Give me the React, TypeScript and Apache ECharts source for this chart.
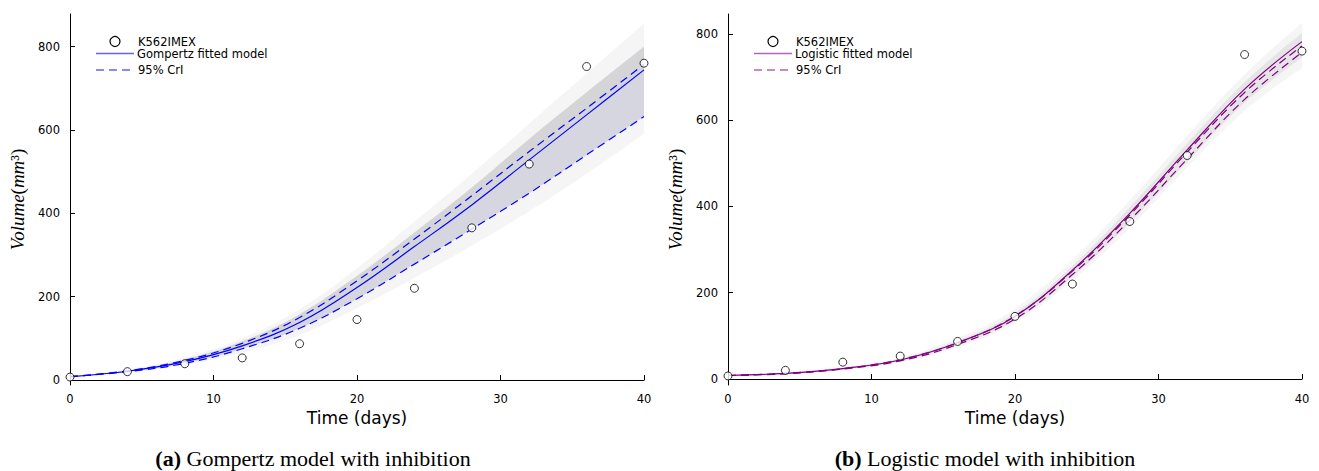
import React, { useEffect, useRef } from "react";
import * as echarts from "echarts";

// ---- data ----
const days = [0, 4, 8, 12, 16, 20, 24, 28, 32, 36, 40];
const observed = [7, 20, 39, 53, 87, 145, 220, 365, 518, 752, 760];

// Gompertz with inhibition
const gompMean = [8, 21, 44, 82, 138, 222, 320, 420, 528, 636, 744];
const gompUpper = [8, 22, 47, 88, 150, 238, 338, 442, 548, 652, 757];
const gompLower = [8, 20, 40, 75, 124, 195, 278, 362, 448, 540, 632];
const gompSampleHi = [9, 25, 54, 100, 170, 268, 380, 495, 615, 735, 855];
const gompSampleMidHi = [9, 23, 50, 93, 158, 250, 354, 462, 578, 690, 800];
const gompSampleLo = [7, 18, 36, 66, 108, 172, 245, 322, 405, 495, 590];

// Logistic with inhibition
const logiMean = [8, 13, 24, 44, 84, 145, 252, 384, 531, 672, 782];
const logiUpper = [8, 13, 24, 45, 84, 146, 250, 380, 526, 664, 772];
const logiLower = [8, 12, 23, 42, 80, 139, 242, 368, 510, 648, 757];
const logiSampleHi = [9, 15, 27, 50, 95, 163, 276, 414, 564, 706, 825];
const logiSampleMidHi = [8, 14, 25, 47, 89, 153, 262, 398, 546, 688, 802];
const logiSampleMidLo = [7, 12, 22, 41, 78, 136, 237, 362, 503, 640, 745];
const logiSampleLo = [7, 11, 21, 38, 74, 130, 228, 350, 490, 622, 720];

const yTicks = [0, 200, 400, 600, 800];

const pairs = (ys: number[]) => days.map((d, i) => [d, ys[i]]);
const diff = (a: number[], b: number[]) => a.map((v, i) => v - b[i]);

// bands are drawn on a hidden category axis (same evenly spaced days) so they can be stacked
function band(grid: number, stack: string, lo: number[], hi: number[], color: string, z: number) {
  return [
    {
      type: "line", xAxisIndex: grid + 2, yAxisIndex: grid, stack, data: lo,
      smooth: 0.4, symbol: "none", lineStyle: { opacity: 0 }, silent: true, z,
    },
    {
      type: "line", xAxisIndex: grid + 2, yAxisIndex: grid, stack, data: diff(hi, lo),
      smooth: 0.4, symbol: "none", lineStyle: { opacity: 0 }, areaStyle: { color, opacity: 1 }, silent: true, z,
    },
  ];
}

function curve(grid: number, name: string, ys: number[], color: string, dashed: boolean) {
  return {
    type: "line", name, xAxisIndex: grid, yAxisIndex: grid, data: pairs(ys),
    smooth: 0.4, symbol: "none",
    lineStyle: { color, width: 1.2, type: dashed ? [8, 5] : "solid" }, z: 5,
  };
}

function points(grid: number) {
  return {
    type: "scatter", name: "K562IMEX", xAxisIndex: grid, yAxisIndex: grid, data: pairs(observed),
    symbol: "circle", symbolSize: 8,
    itemStyle: { color: "#fff", borderColor: "#000", borderWidth: 1 }, z: 10,
  };
}

const font = "DejaVu Sans";

function xAxis(grid: number) {
  return {
    type: "value", gridIndex: grid, min: 0, max: 40, interval: 10,
    name: "Time (days)", nameLocation: "middle", nameGap: 23,
    nameTextStyle: { fontFamily: font, fontSize: 17, color: "#000" },
    axisLine: { show: true, lineStyle: { color: "#000", width: 1 } },
    axisTick: { show: true, inside: true, length: 5, lineStyle: { color: "#000" } },
    axisLabel: { fontFamily: font, fontSize: 11.5, color: "#000", margin: 8 },
    splitLine: { show: false },
  };
}

function hiddenX(grid: number) {
  return {
    type: "category", gridIndex: grid, data: days.map(String), boundaryGap: false, show: false,
  };
}

function yAxis(grid: number, min: number, max: number) {
  return {
    type: "value", gridIndex: grid, min, max,
    name: "{i|Volume}{n|(}{i|mm}{n|³)}", nameLocation: "middle", nameGap: 43,
    nameTextStyle: {
      rich: {
        i: { fontFamily: "Liberation Serif", fontStyle: "italic", fontSize: 19, color: "#000" },
        n: { fontFamily: "Liberation Serif", fontSize: 19, color: "#000" },
      },
    },
    axisLine: { show: true, lineStyle: { color: "#000", width: 1 } },
    axisTick: { show: true, inside: true, length: 5, customValues: yTicks, lineStyle: { color: "#000" } },
    axisLabel: { fontFamily: font, fontSize: 11.5, color: "#000", margin: 10, customValues: yTicks },
    splitLine: { show: false },
  };
}

function legend(x0: number, label: string, color: string) {
  const txt = (x: number, y: number, t: string) => ({
    type: "text", x, y,
    style: { text: t, fontFamily: font, fontSize: 11.5, fill: "#000", textVerticalAlign: "middle", verticalAlign: "middle" },
  });
  return [
    { type: "circle", shape: { cx: x0 + 19, cy: 41.5, r: 5 }, style: { fill: "#fff", stroke: "#000", lineWidth: 1.2 } },
    txt(x0 + 42, 41.5, "K562IMEX"),
    { type: "line", shape: { x1: x0, y1: 53.5, x2: x0 + 38, y2: 53.5 }, style: { stroke: color, lineWidth: 1.3 } },
    txt(x0 + 41, 53.5, label),
    { type: "line", shape: { x1: x0, y1: 70, x2: x0 + 38, y2: 70 }, style: { stroke: color, lineWidth: 1.3, lineDash: [8, 5] } },
    txt(x0 + 42, 70, "95% CrI"),
  ];
}

function caption(cx: number, tag: string, t: string) {
  return {
    type: "text", x: cx, y: 458,
    style: {
      text: `{b|${tag}} ${t}`, fontFamily: "Liberation Serif", fontSize: 22, fill: "#000",
      textAlign: "center", align: "center", textVerticalAlign: "middle", verticalAlign: "middle",
      rich: { b: { fontFamily: "Liberation Serif", fontSize: 22, fontWeight: "bold", fill: "#000" } },
    },
  };
}

export default function App() {
  const ref = useRef<HTMLDivElement>(null);
  useEffect(() => {
    if (!ref.current) return;
    const chart = echarts.init(ref.current, null, { renderer: "svg" });
    chart.setOption({
      animation: false,
      backgroundColor: "#fff",
      grid: [
        { left: 70, top: 14, width: 574, height: 371 },
        { left: 728, top: 14, width: 574, height: 371 },
      ],
      xAxis: [xAxis(0), xAxis(1), hiddenX(0), hiddenX(1)],
      yAxis: [yAxis(0, -12, 878), yAxis(1, -14, 846)],
      series: [
        ...band(0, "g1", gompSampleLo, gompSampleHi, "rgba(244,244,244,0.9)", 1),
        ...band(0, "g2", gompLower, gompSampleMidHi, "rgba(205,205,207,0.8)", 2),
        ...band(0, "g3", gompLower, gompMean, "rgba(216,216,238,0.45)", 3),
        curve(0, "95% CrI upper", gompUpper, "#0000ff", true),
        curve(0, "95% CrI lower", gompLower, "#0000ff", true),
        curve(0, "Gompertz fitted model", gompMean, "#0000ff", false),
        points(0),
        ...band(1, "l1", logiSampleLo, logiSampleHi, "rgba(244,244,244,0.9)", 1),
        ...band(1, "l2", logiSampleMidLo, logiSampleMidHi, "rgba(226,226,226,0.85)", 2),
        curve(1, "95% CrI upper", logiUpper, "#800080", true),
        curve(1, "95% CrI lower", logiLower, "#800080", true),
        curve(1, "Logistic fitted model", logiMean, "#800080", false),
        points(1),
      ],
      graphic: [
        ...legend(96, "Gompertz fitted model", "#6262ff"),
        ...legend(754, "Logistic fitted model", "#b463c0"),
        caption(313, "(a)", "Gompertz model with inhibition"),
        caption(985, "(b)", "Logistic model with inhibition"),
      ],
    });
    return () => chart.dispose();
  }, []);
  return (
    <div
      ref={ref}
      style={{ position: "fixed", left: 0, top: 0, width: 1319, height: 471, background: "#fff" }}
    />
  );
}
